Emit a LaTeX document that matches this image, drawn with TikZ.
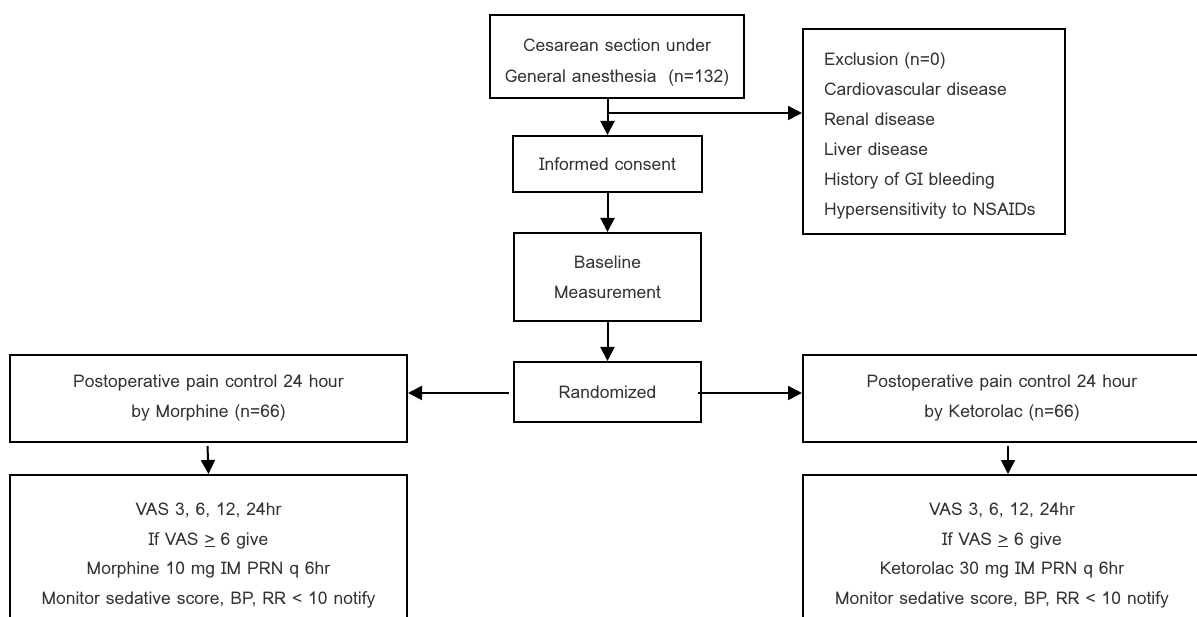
\documentclass[tikz,border=0pt]{standalone}
\usepackage{fontspec}
\setmainfont{Loma}
\usetikzlibrary{arrows.meta,calc}
\newcommand\lowerby[2]{\raisebox{-#1}[\height][\depth]{#2}}
\begin{document}
\begin{tikzpicture}[x=1pt,y=-1pt,
  box/.style={draw=black,line width=2pt,align=center,inner sep=0pt,
    font=\fontsize{17.5}{30}\selectfont,text=black!80},
  montext/.style={align=center,inner sep=0pt,anchor=north,
    font=\fontsize{17.5}{27.5}\selectfont,text=black!80},
  arr/.style={line width=2pt,-{Triangle[length=14pt,width=14pt]}}]
\useasboundingbox (0,0) rectangle (1197,617);
\node[box,minimum width=254pt,minimum height=83pt] (top) at (617,56.5)
  {\lowerby{4pt}{\fontsize{17.5}{31}\selectfont\begin{tabular}{@{}c@{}}Cesarean section under\\General anesthesia~~(n=132)\end{tabular}}};
\node[box,minimum width=189pt,minimum height=56pt] (inf) at (607.5,164) {Informed consent};
\node[box,minimum width=262pt,minimum height=205pt,align=left,text width=220pt] (exc) at (934,131.5)
  {\lowerby{3pt}{\begin{tabular}{@{}l@{}}Exclusion (n=0)\\Cardiovascular disease\\Renal disease\\Liver disease\\History of GI bleeding\\Hypersensitivity to NSAIDs\end{tabular}}};
\node[box,minimum width=187pt,minimum height=88pt] (base) at (607.5,277) {Baseline\\Measurement};
\node[box,minimum width=187pt,minimum height=60pt] (rand) at (607.5,392) {Randomized};
\node[box,minimum width=397pt,minimum height=87pt] (lpost) at (208.5,398.5)
  {Postoperative pain control 24 hour\\by Morphine (n=66)};
\node[box,minimum width=398pt,minimum height=87pt] (rpost) at (1002,398.5)
  {Postoperative pain control 24 hour\\by Ketorolac (n=66)};
\node[box,minimum width=397pt,minimum height=170pt] (lmon) at (208.5,560) {};
\node[box,minimum width=398pt,minimum height=170pt] (rmon) at (1002,560) {};
\node[montext] (lmontxt) at (208.5,503)
  {VAS 3, 6, 12, 24hr\\[2pt]If VAS \underline{>} 6 give\\[2pt]Morphine 10 mg IM PRN q 6hr\\[2pt]Monitor sedative score, BP, RR < 10 notify};
\node[montext] (rmontxt) at (1002,503)
  {VAS 3, 6, 12, 24hr\\[2pt]If VAS \underline{>} 6 give\\[2pt]Ketorolac 30 mg IM PRN q 6hr\\[2pt]Monitor sedative score, BP, RR < 10 notify};
\coordinate (j) at (607.5,113);
\draw[line width=2pt] (top.south -| inf.north) -- (j);
\draw[arr] (j) -- (inf.north);
\draw[arr] (j) -- (j -| exc.west);
\draw[arr] (inf.south) -- (base.north);
\draw[arr] (base.south) -- (rand.north);
\draw[arr] ($(rand.west)+(-4,1)$) -- ($(lpost.east)+(0,-5.5)$);
\draw[arr] ($(rand.east)+(-4,1)$) -- ($(rpost.west)+(0,-5.5)$);
\draw[arr] ($(lpost.south)+(-1,3)$) -- (lmon.north -| lpost.south);
\draw[arr] ($(rpost.south)+(6,3)$) -- ($(rmon.north)+(6,0)$);
\end{tikzpicture}
\end{document}
